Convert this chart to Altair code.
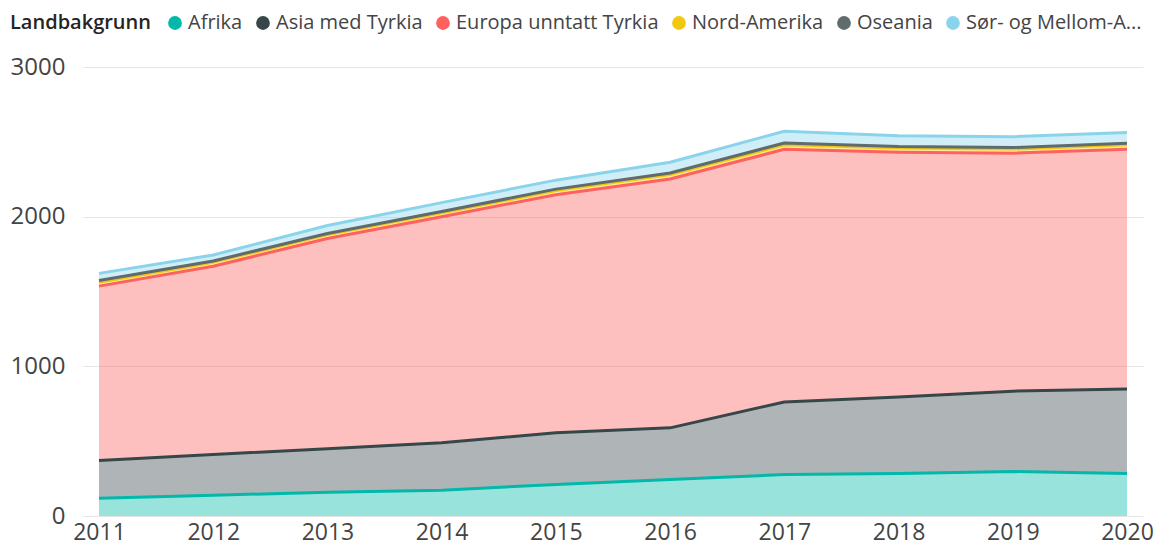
import altair as alt
import pandas as pd

years = [2011, 2012, 2013, 2014, 2015, 2016, 2017, 2018, 2019, 2020]
groups = ["Afrika", "Asia med Tyrkia", "Europa unntatt Tyrkia", "Nord-Amerika", "Oseania", "Sør- og Mellom-Amerika"]
colors = ["#01B8AA", "#374649", "#FD625E", "#F2C80F", "#5F6B6D", "#8AD4EB"]

afrika = [119, 139, 159, 172, 211, 244, 277, 284, 297, 284]
asia = [252, 272, 291, 318, 345, 345, 485, 511, 537, 564]
europa = [1165, 1258, 1404, 1510, 1590, 1663, 1688, 1635, 1590, 1602]
nord_amerika = [26, 27, 26, 26, 28, 30, 30, 28, 28, 30]
oseania = [12, 8, 8, 8, 10, 10, 12, 10, 10, 10]
sor_mellom = [47, 40, 53, 60, 60, 72, 79, 72, 72, 73]

series = [afrika, asia, europa, nord_amerika, oseania, sor_mellom]
rows = []
for gi, (g, vals) in enumerate(zip(groups, series)):
    for y, v in zip(years, vals):
        rows.append({"year": y, "group": g, "value": v, "idx": gi})
df = pd.DataFrame(rows)

FONT = "Open Sans"

chart = (
    alt.Chart(df)
    .transform_stack(
        stack="value",
        groupby=["year"],
        as_=["v0", "v1"],
        sort=[alt.SortField("idx", order="ascending")],
    )
    .mark_area(fillOpacity=0.4, interpolate="linear", line={"strokeWidth": 3, "strokeJoin": "round"})
    .encode(
        x=alt.X(
            "year:Q",
            scale=alt.Scale(domain=[2011, 2020], padding=16, nice=False, zero=False),
            axis=alt.Axis(
                values=years, format="d", title=None, grid=False, domain=False, ticks=False,
                labelFontSize=23, labelPadding=5, labelColor="#444444", labelFont=FONT,
            ),
        ),
        y=alt.Y(
            "v1:Q",
            scale=alt.Scale(domain=[0, 3000], nice=False),
            axis=alt.Axis(
                values=[0, 1000, 2000, 3000], format="d", title=None, domain=False, ticks=False,
                gridColor="#E6E6E6", gridWidth=1, labelFontSize=24, labelPadding=18,
                labelColor="#444444", labelFont=FONT,
            ),
        ),
        y2="v0:Q",
        color=alt.Color(
            "group:N",
            scale=alt.Scale(domain=groups, range=colors),
            legend=alt.Legend(
                title="Landbakgrunn",
                orient="none",
                legendX=-73,
                legendY=-54,
                direction="horizontal",
                titleOrient="left",
                titleFont=FONT,
                titleFontSize=20,
                titleFontWeight=600,
                titleColor="#252423",
                titlePadding=14,
                labelFont=FONT,
                labelFontSize=20,
                labelColor="#444444",
                labelOffset=3,
                labelLimit=400,
                columnPadding=10,
                symbolType="circle",
                symbolSize=190,
                symbolOpacity=1,
                symbolStrokeWidth=0,
                labelExpr="datum.label == 'Sør- og Mellom-Amerika' ? 'Sør- og Mellom-A...' : datum.label",
            ),
        ),
    )
    .properties(
        width=1060,
        height=449,
        background="white",
        autosize=alt.AutoSizeParams(type="none"),
        padding={"left": 75, "top": 59, "right": 13, "bottom": 32},
    )
    .configure_view(strokeWidth=0, stroke=None)
)

chart.save("out.html", embed_options={"renderer": "svg", "actions": False})
